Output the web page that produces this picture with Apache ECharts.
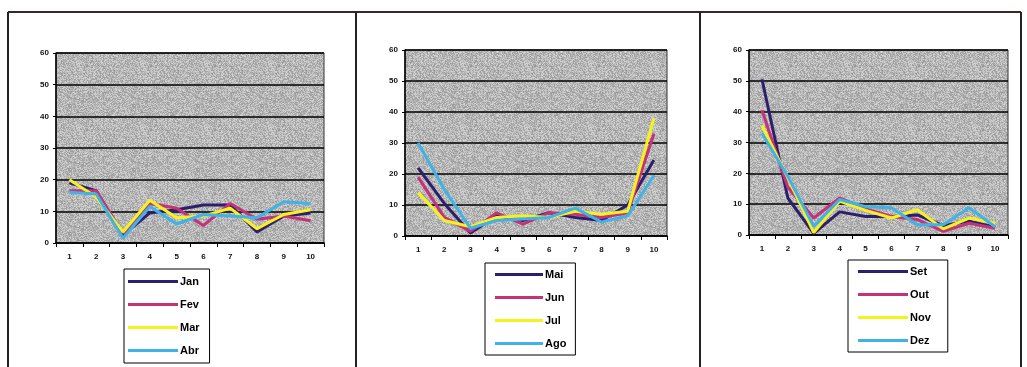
<!DOCTYPE html>
<html>
<head>
<meta charset="utf-8">
<script src="https://cdn.jsdelivr.net/npm/echarts@6/dist/echarts.min.js"></script>
<style>
  html, body { margin: 0; padding: 0; background: #fff; }
  #chart { width: 1027px; height: 367px; }
</style>
</head>
<body>
<div id="chart"></div>
<script>
// Categories on the x axis (1..10) and the value axis ticks
const categories = ['1', '2', '3', '4', '5', '6', '7', '8', '9', '10'];
const yMin = 0, yMax = 60, yStep = 10;

// Panel 1: January - April
const jan = [19, 16.5, 2.5, 9.5, 10.5, 12, 12, 3.5, 8.5, 9.5];
const fev = [16.5, 16.5, 3, 12.5, 11, 5.5, 12.5, 7.5, 8.5, 7];
const mar = [20, 14.5, 3.5, 13.5, 8, 8.5, 11, 4.5, 9, 10.5];
const abr = [16, 15.5, 1.5, 11.5, 6, 9, 8.5, 8, 13, 12.5];

// Panel 2: May - August
const mai = [22, 10.5, 1, 6.5, 5, 7.5, 6, 5, 10, 24.5];
const jun = [19, 6, 1.5, 7.5, 3.8, 7.5, 7, 6, 7.5, 33];
const jul = [14, 5, 3, 6, 6.5, 6, 8, 7, 8, 38];
const ago = [30, 15, 2.5, 5, 5.5, 6, 9, 4.5, 6.5, 19.5];

// Panel 3: September - December
const set = [50.5, 12, 0.5, 7.5, 6, 6, 6.5, 3, 4.5, 2.5];
const out = [40.5, 15.5, 5.5, 12, 8.5, 6, 5, 1.2, 3.8, 2.2];
const nov = [35.5, 18.5, 0.8, 11, 8, 5.5, 8.2, 2, 5.5, 3.8];
const dez = [33, 19, 2.8, 11.5, 9.2, 8.8, 3.3, 3.3, 8.8, 2.7];

const panelNames = [
  ['Jan', 'Fev', 'Mar', 'Abr'],
  ['Mai', 'Jun', 'Jul', 'Ago'],
  ['Set', 'Out', 'Nov', 'Dez']
];
const panelData = [
  [jan, fev, mar, abr],
  [mai, jun, jul, ago],
  [set, out, nov, dez]
];
const lineColors = ['#2e1f6c', '#c4327a', '#f6f21e', '#3fb2e6'];

// Speckled granite-like grey fill for the plot areas (deterministic hash noise)
function granite() {
  const c = document.createElement('canvas');
  c.width = 64; c.height = 64;
  const ctx = c.getContext('2d');
  const img = ctx.createImageData(64, 64);
  for (let y = 0; y < 64; y++) {
    for (let x = 0; x < 64; x++) {
      let h = (x * 374761393 + y * 668265263) | 0;
      h = Math.imul(h ^ (h >>> 13), 1274126177);
      h = (h ^ (h >>> 16)) >>> 0;
      const v = 182 + ((h % 61) - 30);
      const i = (y * 64 + x) * 4;
      img.data[i] = v; img.data[i + 1] = v; img.data[i + 2] = v; img.data[i + 3] = 255;
    }
  }
  ctx.putImageData(img, 0, 0);
  return c;
}
const plotFill = { image: granite(), repeat: 'repeat' };

const grids = [
  { left: 56, top: 53, width: 268, height: 190 },
  { left: 405, top: 50, width: 262, height: 186 },
  { left: 749, top: 50, width: 259, height: 185 }
];
const legends = [
  { left: 124, top: 269, padding: [6, 10, 6, 4], itemWidth: 50 },
  { left: 485, top: 263, padding: [5, 9, 5, 10], itemWidth: 48 },
  { left: 848, top: 260, padding: [5, 17, 5, 10], itemWidth: 50 }
];

const font = 'Liberation Sans, Arial, sans-serif';

const option = {
  backgroundColor: '#fff',
  animation: false,
  grid: grids.map(g => Object.assign({
    show: true,
    backgroundColor: plotFill,
    borderColor: '#333',
    borderWidth: 1,
    containLabel: false
  }, g)),
  xAxis: grids.map((g, i) => ({
    type: 'category',
    gridIndex: i,
    data: categories,
    boundaryGap: true,
    axisLine: { lineStyle: { color: '#000', width: 1.5 } },
    axisTick: { show: true, length: 4, alignWithLabel: false, lineStyle: { color: '#000' } },
    axisLabel: { fontSize: 8, fontWeight: 'bold', color: '#111', fontFamily: font, margin: 10 },
    splitLine: { show: false }
  })),
  yAxis: grids.map((g, i) => ({
    type: 'value',
    gridIndex: i,
    min: yMin, max: yMax, interval: yStep,
    axisLine: { show: true, lineStyle: { color: '#000', width: 1.5 } },
    axisTick: { show: true, length: 3, lineStyle: { color: '#000' } },
    axisLabel: { fontSize: 8, fontWeight: 'bold', color: '#111', fontFamily: font, margin: 7 },
    splitLine: { show: true, lineStyle: { color: '#000', width: 1.5 } }
  })),
  legend: legends.map((l, i) => ({
    orient: 'vertical',
    left: l.left, top: l.top,
    padding: l.padding,
    itemGap: 10,
    itemWidth: l.itemWidth,
    itemHeight: 3,
    icon: 'rect',
    selectedMode: false,
    borderColor: '#000',
    borderWidth: 1,
    textStyle: { fontSize: 11, fontWeight: 'bold', color: '#000', fontFamily: font, lineHeight: 13, padding: [0, 0, 0, -3] },
    data: panelNames[i]
  })),
  series: panelNames.flatMap((names, p) => names.map((name, k) => ({
    name: name,
    type: 'line',
    xAxisIndex: p,
    yAxisIndex: p,
    data: panelData[p][k],
    symbol: 'none',
    lineStyle: { width: 3, color: lineColors[k] },
    itemStyle: { color: lineColors[k] }
  }))),
  graphic: [
    // panel frames
    { type: 'line', shape: { x1: 8, y1: 12, x2: 1021, y2: 12 }, style: { stroke: '#3b2626', lineWidth: 2 } },
    { type: 'line', shape: { x1: 8, y1: 12, x2: 8, y2: 367 }, style: { stroke: '#222', lineWidth: 2 } },
    { type: 'line', shape: { x1: 356, y1: 12, x2: 356, y2: 367 }, style: { stroke: '#222', lineWidth: 2 } },
    { type: 'line', shape: { x1: 700, y1: 12, x2: 700, y2: 367 }, style: { stroke: '#222', lineWidth: 2 } },
    { type: 'line', shape: { x1: 1021, y1: 12, x2: 1021, y2: 367 }, style: { stroke: '#222', lineWidth: 2 } }
  ]
};

const chart = echarts.init(document.getElementById('chart'), null, { renderer: 'canvas' });
chart.setOption(option);
</script>
</body>
</html>
